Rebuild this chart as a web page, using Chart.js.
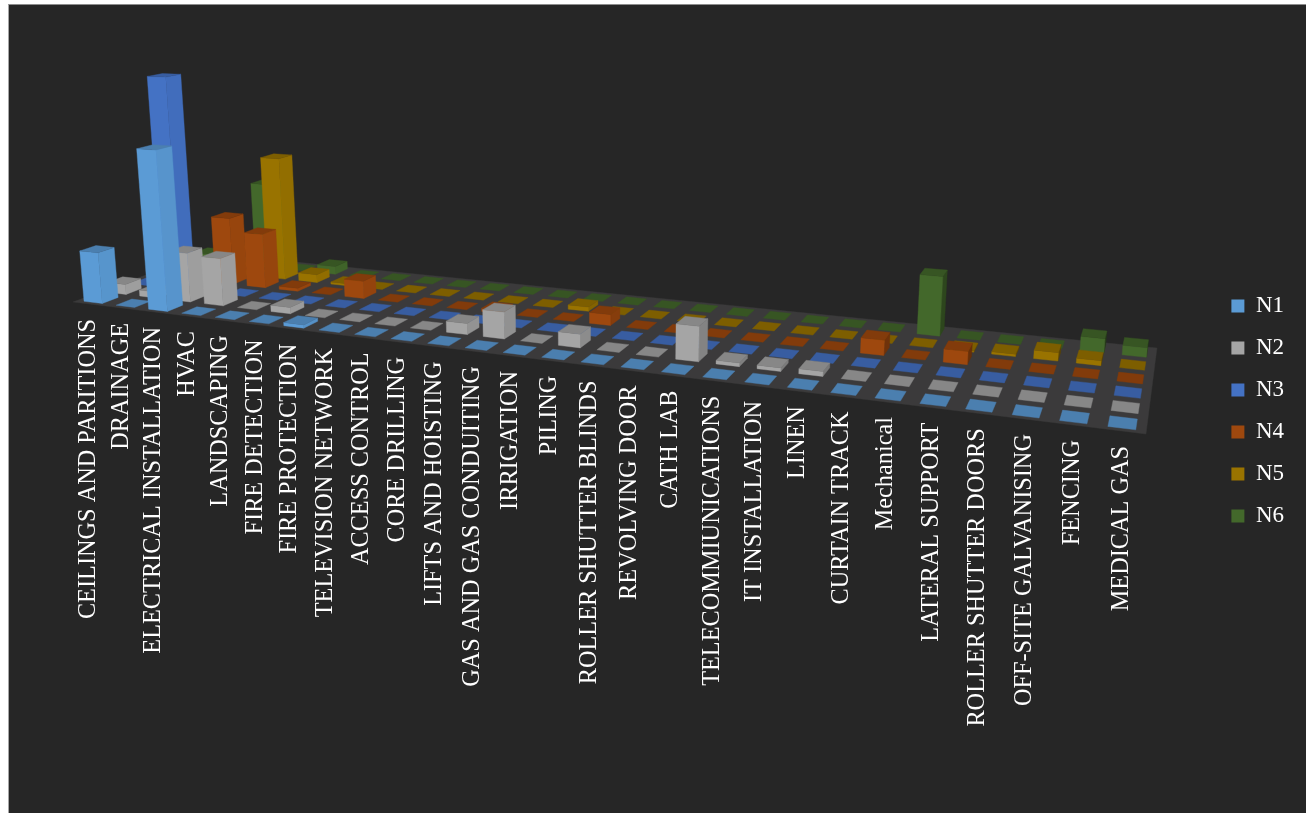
<!DOCTYPE html>
<html lang="en">
<head>
<meta charset="UTF-8">
<title>3D column chart</title>
<script src="https://cdn.jsdelivr.net/npm/chart.js"></script>
<style>
    html, body { margin: 0; padding: 0; background: #fff; overflow: hidden; }
    #frame {
        position: absolute; left: 8px; top: 4px; right: 0; bottom: 0;
        background: #262626;
        border-left: 1px solid #a6a6a6;
        border-top: 1px solid #8c8c8c;
    }
    #chart { position: absolute; left: 0; top: 0; }
</style>
</head>
<body>
<div id="frame"></div>
<canvas id="chart" width="1306" height="813"></canvas>
<script>
const categories = ['CEILINGS AND PARITIONS', 'DRAINAGE', 'ELECTRICAL INSTALLATION', 'HVAC', 'LANDSCAPING',
    'FIRE DETECTION', 'FIRE PROTECTION', 'TELEVISION NETWORK', 'ACCESS CONTROL', 'CORE DRILLING',
    'LIFTS AND HOISTING', 'GAS AND GAS CONDUITING', 'IRRIGATION', 'PILING', 'ROLLER SHUTTER BLINDS',
    'REVOLVING DOOR', 'CATH LAB', 'TELECOMMIUNICATIONS', 'IT INSTALLATION', 'LINEN', 'CURTAIN TRACK',
    'Mechanical', 'LATERAL SUPPORT', 'ROLLER SHUTTER DOORS', 'OFF-SITE GALVANISING', 'FENCING', 'MEDICAL GAS'];

const n1 = [50, 0, 153, 0, 0, 0, 3, 0, 0, 0, 0, 0, 0, 0, 0, 0, 0, 0, 0, 0, 0, 0, 0, 0, 0, 0, 0];
const n2 = [10, 6, 48, 46, 0, 6, 0, 0, 0, 0, 10, 24, 0, 12, 0, 0, 30, 3, 3, 4, 0, 0, 0, 0, 0, 0, 0];
const n3 = [0, 210, 0, 0, 0, 0, 0, 0, 0, 0, 0, 0, 0, 0, 0, 0, 0, 0, 0, 0, 0, 0, 0, 0, 0, 0, 0];
const n4 = [0, 0, 67, 54, 3, 0, 17, 0, 0, 0, 3, 0, 0, 10, 0, 0, 0, 0, 0, 0, 13, 0, 11, 0, 0, 0, 0];
const n5 = [0, 0, 0, 123, 8, 2, 0, 0, 0, 0, 0, 0, 4, 0, 0, 0, 0, 0, 0, 0, 0, 0, 1, 2, 7, 4, 0];
const n6 = [8, 0, 88, 0, 8, 0, 0, 0, 0, 0, 0, 0, 0, 0, 0, 0, 0, 0, 0, 0, 0, 52, 0, 0, 0, 12, 8];

const seriesNames = ['N1', 'N2', 'N3', 'N4', 'N5', 'N6'];
const seriesValues = [n1, n2, n3, n4, n5, n6];
const seriesColors = ['#5B9BD5', '#A5A5A5', '#4472C4', '#9E480E', '#997300', '#43682B'];

// floor of the 3d box on the page: front-left, front-right, back-right, back-left
const floorQuad = [[73, 302], [1146, 434], [1157, 348], [205, 253]];
const verticalVanish = [609, 6464];
const spacingRatio = 0.80; // how much the category spacing grows along the floor
const valueMax = 250;
const serif = '"Liberation Serif", "Times New Roman", serif';

function shade(hex, f) {
    const n = parseInt(hex.slice(1), 16);
    const c = [n >> 16, (n >> 8) & 255, n & 255].map(v => Math.round(v * f));
    return 'rgb(' + c.join(',') + ')';
}

// homography of the unit square onto the floor quad, plus a vertical column for height
function makeProjection(q) {
    const [p0, p1, p2, p3] = q;
    const dx1 = p1[0] - p2[0], dx2 = p3[0] - p2[0], sx = p0[0] - p1[0] + p2[0] - p3[0];
    const dy1 = p1[1] - p2[1], dy2 = p3[1] - p2[1], sy = p0[1] - p1[1] + p2[1] - p3[1];
    const det = dx1 * dy2 - dx2 * dy1;
    const g = (sx * dy2 - dx2 * sy) / det;
    const h = (dx1 * sy - sx * dy1) / det;
    const a = p1[0] - p0[0] + g * p1[0], b = p3[0] - p0[0] + h * p3[0], c = p0[0];
    const d = p1[1] - p0[1] + g * p1[1], e = p3[1] - p0[1] + h * p3[1], f = p0[1];
    const k = -1 / (verticalVanish[1] - p0[1]);
    return function (uIn, v, n) {
        const t = uIn * spacingRatio / (1 + (spacingRatio - 1) * uIn);
        const u = t / (1 + g - g * t);
        const w = g * u + h * v + 1 + n * k;
        return [(a * u + b * v + c + n * k * verticalVanish[0]) / w,
                (d * u + e * v + f + n * k * verticalVanish[1]) / w];
    };
}
const project = makeProjection(floorQuad);

function fillQuad(ctx, pts, color) {
    ctx.beginPath();
    pts.forEach((p, i) => i ? ctx.lineTo(p[0], p[1]) : ctx.moveTo(p[0], p[1]));
    ctx.closePath();
    ctx.fillStyle = color;
    ctx.strokeStyle = color;
    ctx.lineWidth = 0.4;
    ctx.fill();
    ctx.stroke();
}

const bars3d = {
    id: 'bars3d',
    beforeDatasetsDraw(chart) {
        const ctx = chart.ctx;
        const sx = chart.scales.x, sy = chart.scales.y, sd = chart.scales.depth;
        const toU = val => (sx.getPixelForValue(val) - sx.left) / sx.width;
        const toV = val => (sd.getPixelForValue(val) - sd.left) / sd.width;
        const toN = val => (sy.bottom - sy.getPixelForValue(val)) / sy.height * valueMax;

        ctx.save();
        fillQuad(ctx, [project(0, 0, 0), project(1, 0, 0), project(1, 1, 0), project(0, 1, 0)], '#3b3a3b');

        const halfW = 0.285, halfD = 0.33;
        for (let s = seriesValues.length - 1; s >= 0; s--) {
            const values = chart.data.datasets[s].data;
            const color = chart.data.datasets[s].backgroundColor;
            values.forEach((val, i) => {
                const u0 = toU(i - halfW), u1 = toU(i + halfW);
                const v0 = toV(s - halfD), v1 = toV(s + halfD);
                const n = toN(val);
                if (n > 0) {
                    const uMid = (u0 + u1) / 2;
                    fillQuad(ctx, [project(u1, v0, 0), project(u1, v1, 0), project(u1, v1, n), project(u1, v0, n)],
                        shade(color, 0.96 - 0.45 * uMid * uMid));
                    fillQuad(ctx, [project(u0, v0, 0), project(u1, v0, 0), project(u1, v0, n), project(u0, v0, n)], color);
                }
                fillQuad(ctx, [project(u0, v0, n), project(u1, v0, n), project(u1, v1, n), project(u0, v1, n)],
                    shade(color, 0.82));
            });
        }

        // category labels hang below the front edge of the floor
        ctx.fillStyle = '#ffffff';
        ctx.font = '24.3px ' + serif;
        ctx.textAlign = 'right';
        ctx.textBaseline = 'middle';
        categories.forEach((cat, i) => {
            const p = project(toU(i), 0, 0);
            ctx.save();
            ctx.translate(p[0], p[1] + 15);
            ctx.rotate(-Math.PI / 2);
            ctx.fillText(sx.getLabelForValue(i), 0, 0);
            ctx.restore();
        });
        ctx.restore();
        return false; // the boxes above replace the flat bars
    }
};

new Chart(document.getElementById('chart'), {
    type: 'bar',
    data: {
        labels: categories,
        datasets: seriesNames.map((name, s) => ({
            label: name,
            data: seriesValues[s],
            backgroundColor: seriesColors[s],
            borderWidth: 0
        }))
    },
    options: {
        responsive: false,
        animation: false,
        devicePixelRatio: 1,
        layout: { padding: { top: 9, right: 12 } },
        scales: {
            x: { display: false, offset: true },
            y: { display: false, min: 0, max: valueMax },
            depth: { type: 'category', axis: 'x', position: 'bottom', display: false, offset: true, labels: seriesNames }
        },
        plugins: {
            tooltip: { enabled: false },
            legend: {
                position: 'right',
                labels: {
                    color: '#ffffff',
                    boxWidth: 13,
                    boxHeight: 13,
                    padding: 19,
                    font: { family: serif, size: 23, lineHeight: 1 }
                }
            }
        }
    },
    plugins: [bars3d]
});
</script>
</body>
</html>
